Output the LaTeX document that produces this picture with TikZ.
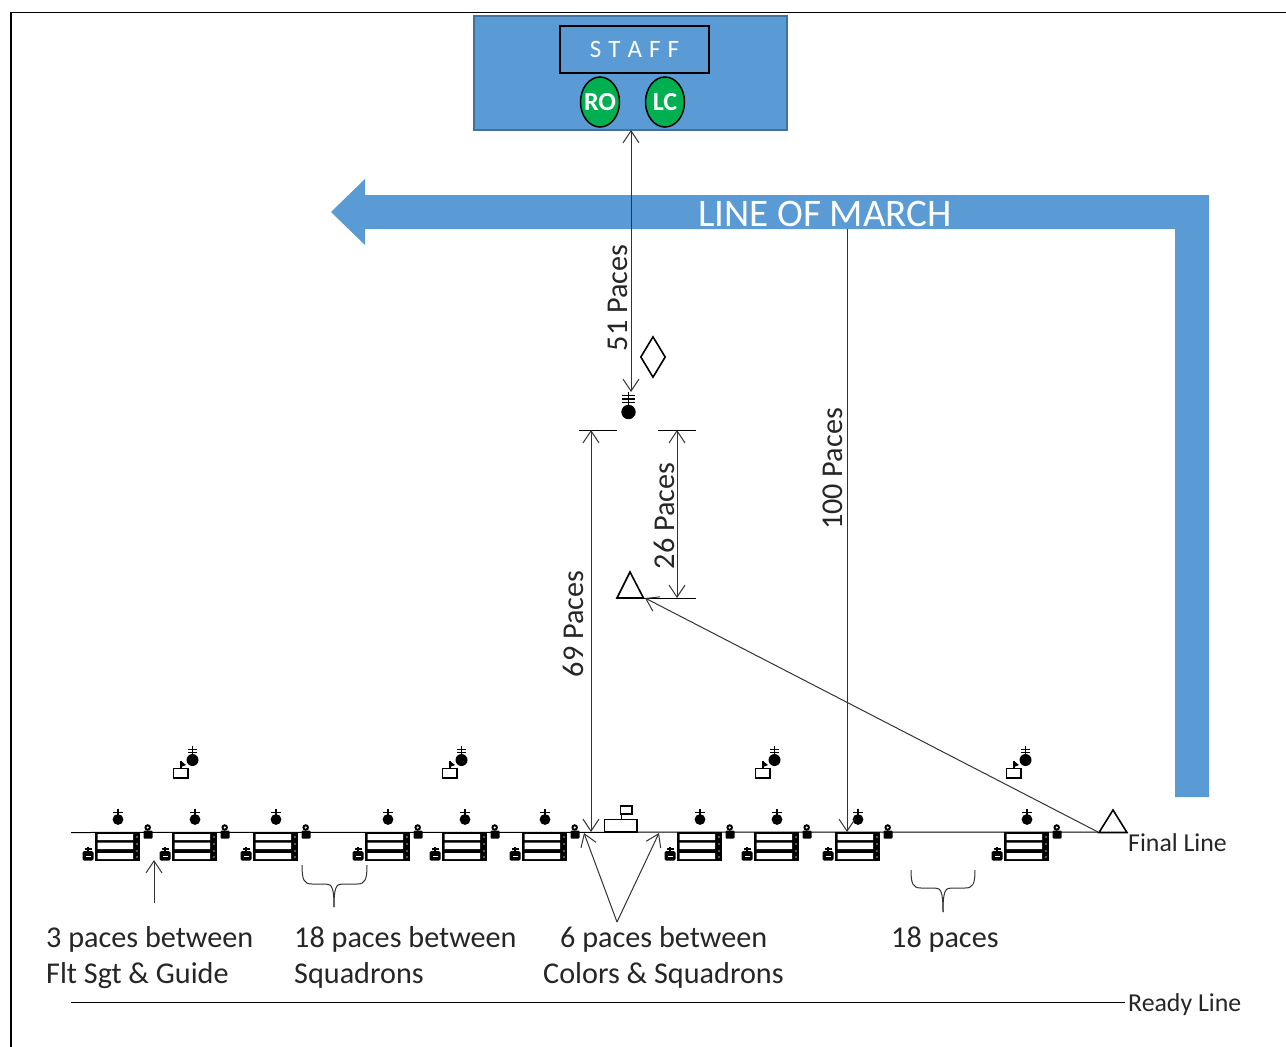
\documentclass[tikz,border=0pt]{standalone}
\usepackage{fontspec}
\setmainfont{Carlito}
\usetikzlibrary{arrows.meta,shapes.geometric}
\definecolor{bluefill}{HTML}{5B9BD5}
\definecolor{blueedge}{HTML}{41719C}
\definecolor{greenfill}{HTML}{00B050}
\definecolor{linegray}{HTML}{333333}
\tikzset{
  x=1pt,y=-1pt,
  conn/.style={draw=linegray,line width=1pt},
  arrowend/.style={conn,-{Straight Barb[length=12pt,width=16pt,line width=1pt]}},
  arrowboth/.style={conn,{Straight Barb[length=12pt,width=16pt,line width=1pt]}-{Straight Barb[length=12pt,width=16pt,line width=1pt]}},
  lab/.style={font=\fontsize{30.2}{30}\selectfont,text=black!85,inner sep=0pt},
  endlab/.style={font=\fontsize{25.8}{26}\selectfont,text=black!85,inner sep=0pt,anchor=base west},
  leftlab/.style={lab,anchor=base west},
  rotlab/.style={lab,rotate=90,anchor=center},
  person/.style={ellipse,draw=black,fill=greenfill,line width=1.5pt,minimum width=39pt,minimum height=50pt,inner sep=-4pt,text=white,font=\fontsize{26}{26}\selectfont\bfseries},
}
\newcommand{\crossat}[2]{\draw[black,line width=1.8pt] (#1,#2-5) -- (#1,#2+5) (#1-5,#2-1) -- (#1+5,#2-1);}
\newcommand{\squadron}[1]{%
  \begin{scope}[shift={(#1,0)}]
    \fill[black] (95,831.5) rectangle (140,860.5);
    \fill[white] (97.5,834) rectangle (133,840) (97.5,842.5) rectangle (133,849) (97.5,853) rectangle (133,859);
    \foreach \yy in {837,844,851,857}{\fill[white!70!black] (137,\yy) circle (.8);}
    % flight commander
    \fill[black] (118,819.5) circle (5.4);
    \crossat{118}{813.5}
    % guide
    \fill[black,rounded corners=1pt] (143.5,830.5) rectangle (152.5,838.5);
    \fill[black] (147.7,827.5) circle (3.3);
    \fill[white] (147.7,827.5) circle (1.2);
    % flight sergeant
    \fill[black,rounded corners=1.5pt] (82.5,851) rectangle (93.5,860.5);
    \fill[white] (85.5,855.5) rectangle (90.5,856.5);
    \draw[black,line width=1.2pt] (88,846.5) -- (88,852) (84.5,849) -- (91.5,849);
  \end{scope}}
\newcommand{\commander}[1]{%
  \begin{scope}[shift={(#1,0)}]
    \fill[black] (192.5,760) circle (6);
    \draw[black,line width=1.5pt] (192.5,745.5) -- (192.5,755) (188,749.5) -- (197,749.5) (188,752.5) -- (197,752.5);
    \draw[black,line width=1.5pt] (173.5,768.5) rectangle (188,778);
    \draw[black,line width=1.3pt] (181,768.5) -- (181,761);
    \fill[black] (181,761) -- (186,765) -- (181,767) -- cycle;
  \end{scope}}
\begin{document}
\begin{tikzpicture}
\useasboundingbox (0,0) rectangle (1286,1047);
\fill[white] (0,0) rectangle (1286,1047);
% frame
\draw[black,line width=1.8pt] (11,1047) -- (11,12.5) -- (1286,12.5);
% staff
\node[draw=blueedge,fill=bluefill,line width=1.2pt,minimum width=313pt,minimum height=114pt,inner sep=0pt] (staffbox) at (630.5,73) {};
\node[draw=black,line width=1.6pt,minimum width=149pt,minimum height=47pt,inner sep=0pt,text=white,font=\fontsize{25}{25}\selectfont] (stafflabel) at (634.5,49.5) {S\hspace{7pt}T\hspace{7pt}A\hspace{7pt}F\hspace{7pt}F};
\node[person] (ro) at (600,102) {RO};
\node[person] (lc) at (665,102) {LC};
% line of march
\fill[bluefill] (331,212) -- (365,179) -- (365,195) -- (1209,195) -- (1209,797) -- (1175,797) -- (1175,229) -- (365,229) -- (365,245) -- cycle;
\node[text=white,font=\fontsize{39}{39}\selectfont,inner sep=0pt] (march) at (825,214) {LINE OF MARCH};
% coordinates
\coordinate (staffbottom) at (631,130);
\coordinate (colonel) at (631,392);
\coordinate (tickA) at (591,430);
\coordinate (tickB) at (677,430);
\coordinate (tickC) at (677,598);
\coordinate (finalA) at (591,832);
\coordinate (marchOff) at (847,229);
\coordinate (finalB) at (847,832);
\coordinate (triLeftTip) at (645,598);
\coordinate (triRightBase) at (1098,832);
\coordinate (guideNote) at (154,903);
\coordinate (guideTip) at (154,860);
\coordinate (vApex) at (617,922);
\coordinate (vLeft) at (584,833);
\coordinate (vRight) at (659,833);
% baselines
\coordinate (finalStart) at (71,832.5);
\coordinate (readyStart) at (71,1002.5);
\coordinate (readyEnd) at (1125,1002.5);
\draw[black,line width=1pt] (finalStart) -- (triRightBase);
\draw[black,line width=.9pt] (readyStart) -- (readyEnd);
% squadrons
\foreach \dx in {0,77,158,270,347,427,582,659,740,909}{\squadron{\dx}}
\foreach \dx in {0,269,582,833}{\commander{\dx}}
% colors
\draw[black,line width=1.5pt] (604.5,819.5) rectangle (637,832);
\draw[black,line width=1.3pt] (620.5,806) rectangle (632,814);
\draw[black,line width=1.1pt] (621.5,814) -- (621.5,819.5);
% reviewing commander
\fill[black] (628.5,412) circle (7.2);
\draw[black,line width=1.4pt] (628.5,392) -- (628.5,405) (622,395.5) -- (635,395.5) (622,399) -- (635,399) (622,402.5) -- (635,402.5);
\node[diamond,draw=black,line width=1.6pt,minimum width=25pt,minimum height=41pt,inner sep=0pt,aspect=.6] (adj) at (653,357) {};
% triangles
\draw[black,line width=1.6pt] (630,572) -- (643.5,598) -- (617,598) -- cycle;
\draw[black,line width=1.6pt] (1113,810) -- (1127,832.5) -- (1099,832.5) -- cycle;
% ticks
\draw[black,line width=1pt] (579,430) -- (617,430);
\draw[black,line width=1pt] (658,430) -- (696,430);
\draw[black,line width=1pt] (644,598) -- (696,598);
% arrows
\draw[arrowboth] (staffbottom) -- (colonel);
\draw[arrowboth] (tickA) -- (finalA);
\draw[arrowboth] (tickB) -- (tickC);
\draw[arrowend] (marchOff) -- (finalB);
\draw[arrowend] (triRightBase) -- (triLeftTip);
\draw[arrowend] (guideNote) -- (guideTip);
\draw[arrowend] (vApex) -- (vLeft);
\draw[arrowend] (vApex) -- (vRight);
% braces
\draw[conn] (302,865) .. controls (302,880) and (304,884) .. (312,884) -- (326,884) .. controls (332,884) and (334,888) .. (334,907);
\draw[conn] (367,865) .. controls (367,880) and (365,884) .. (357,884) -- (342,884) .. controls (336,884) and (334,888) .. (334,907);
\draw[conn] (911,870) .. controls (911,884) and (913,888) .. (921,888) -- (935,888) .. controls (941,888) and (943,892) .. (943,912);
\draw[conn] (975,870) .. controls (975,884) and (973,888) .. (965,888) -- (951,888) .. controls (945,888) and (943,892) .. (943,912);
% labels
\node[rotlab] (l51) at (618,298) {51 Paces};
\node[rotlab] (l69) at (573,624) {69 Paces};
\node[rotlab] (l26) at (664,516) {26 Paces};
\node[rotlab] (l100) at (833,469) {100 Paces};
\node[endlab] (tfinal) at (1128,851) {Final Line};
\node[endlab] (tready) at (1128,1011) {Ready Line};
\node[leftlab] (t3a) at (46,947) {3 paces between};
\node[leftlab] (t3b) at (46,983) {Flt Sgt \& Guide};
\node[leftlab] (t18a) at (294,947) {18 paces between};
\node[leftlab] (t18b) at (294,983) {Squadrons};
\node[leftlab] (t6a) at (560,947) {6 paces between};
\node[leftlab] (t6b) at (543,983) {Colors \& Squadrons};
\node[leftlab] (t18c) at (891,947) {18 paces};
\end{tikzpicture}
\end{document}
